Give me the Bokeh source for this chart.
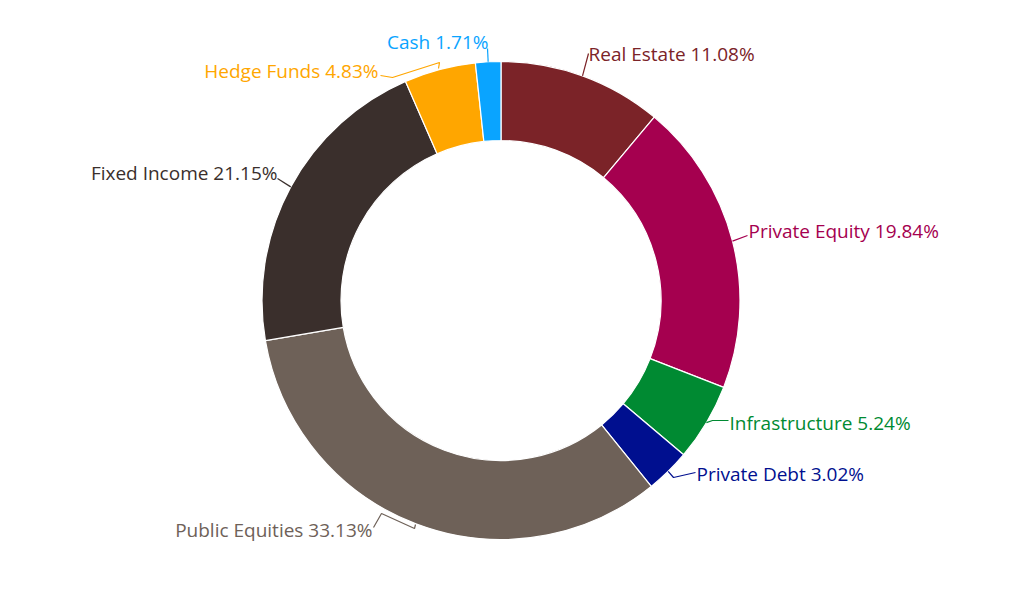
import math
from bokeh.plotting import figure
from bokeh.models import Range1d, ColumnDataSource
from bokeh.core.properties import value
from bokeh.embed import file_html
from bokeh.resources import INLINE

# Asset allocation (percent of total), clockwise from 12 o'clock
categories = ["Real Estate", "Private Equity", "Infrastructure", "Private Debt",
              "Public Equities", "Fixed Income", "Hedge Funds", "Cash"]
shares = [11.08, 19.84, 5.24, 3.02, 33.13, 21.15, 4.83, 1.71]
colors = ["#7b2328", "#a5004f", "#008a32", "#000f8f",
          "#6e6158", "#3a2f2c", "#ffa600", "#0aa4ff"]

W, H = 1030, 597
CX, CY = 500.5, H - 300
R_OUT, R_IN = 239, 160

# label anchors (screen px, y measured from top), alignment, and connector bend points
label_layout = {
    "Real Estate":     dict(x=588, y=53,  align="left",  bends=[(588, 53)]),
    "Private Equity":  dict(x=748, y=230, align="left",  bends=[(747, 235)]),
    "Infrastructure":  dict(x=729, y=422, align="left",  bends=[(712, 420), (728, 420)]),
    "Private Debt":    dict(x=696, y=473, align="left",  bends=[(673, 477), (695, 472)]),
    "Public Equities": dict(x=372, y=529, align="right", bends=[(414, 528), (381, 513), (373, 527)]),
    "Fixed Income":    dict(x=277, y=172, align="right", bends=[(277, 178)]),
    "Hedge Funds":     dict(x=378, y=70,  align="right", bends=[(439, 62), (392, 77), (380, 75)]),
    "Cash":            dict(x=488, y=41,  align="right", bends=[(487, 48)]),
}

total = sum(shares)
starts, ends, mids = [], [], []
acc = 0.0
for s in shares:
    a0 = acc / total * 2 * math.pi
    acc += s
    a1 = acc / total * 2 * math.pi
    starts.append(math.pi / 2 - a0)
    ends.append(math.pi / 2 - a1)
    mids.append((a0 + a1) / 2)

p = figure(width=W, height=H, output_backend="svg", toolbar_location=None,
           x_range=Range1d(0, W), y_range=Range1d(0, H), min_border=0)
p.axis.visible = False
p.grid.visible = False
p.outline_line_color = None
p.background_fill_color = "white"
p.border_fill_color = "white"

src = ColumnDataSource(dict(start=starts, end=ends, color=colors))
p.annular_wedge(x=CX, y=CY, inner_radius=R_IN, outer_radius=R_OUT,
                start_angle="start", end_angle="end", direction="clock",
                fill_color="color", line_color="white", line_width=1.2, source=src)

for cat, share, col, m in zip(categories, shares, colors, mids):
    lay = label_layout[cat]
    ex = CX + R_OUT * math.sin(m)
    ey = CY + R_OUT * math.cos(m)
    if cat == "Hedge Funds":
        ex, ey = 438, H - 68
    if cat == "Public Equities":
        ex, ey = 415, H - 524
    xs = [ex] + [b[0] for b in lay["bends"]]
    ys = [ey] + [H - b[1] for b in lay["bends"]]
    p.line(xs, ys, line_color=col, line_width=1.2)
    p.text(x=[lay["x"]], y=[H - lay["y"]], text=[f"{cat} {share:.2f}%"],
           text_color=col, text_font=value("Open Sans"), text_font_size="19px",
           text_align=lay["align"], text_baseline="middle")

open("out.html", "w").write(file_html(p, INLINE))
